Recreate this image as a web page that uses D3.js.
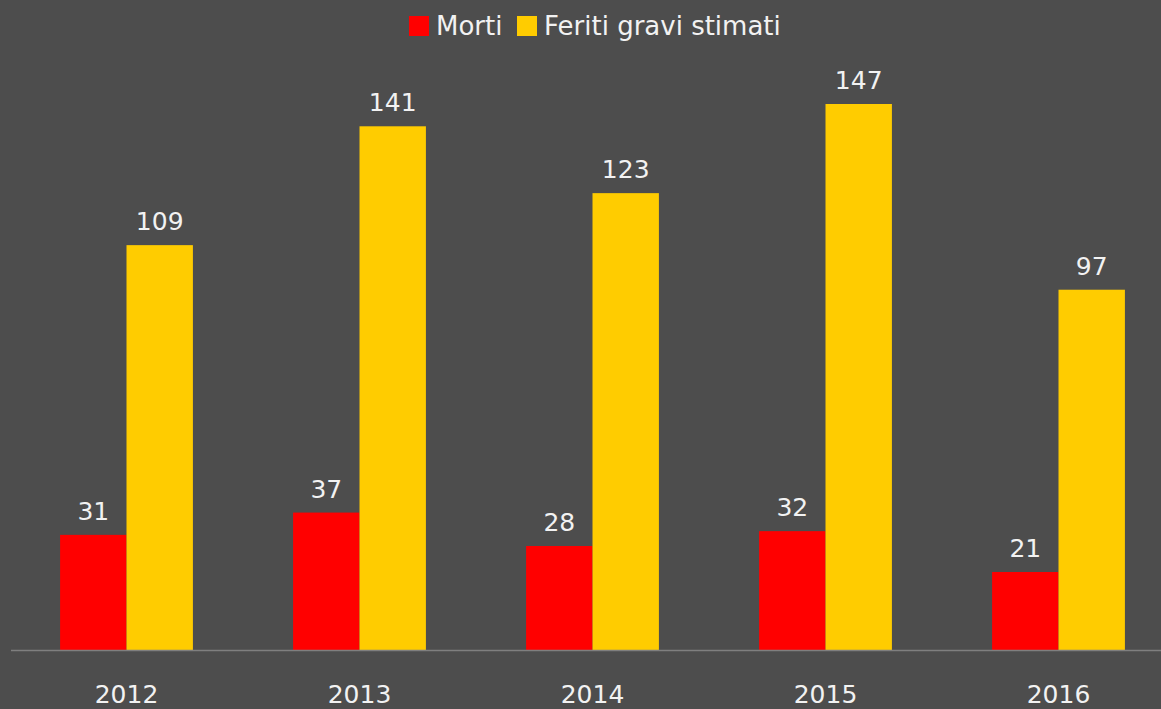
<!DOCTYPE html>
<meta charset="utf-8">
<style>
body { margin: 0; background: #4d4d4d; }
text { font-family: "DejaVu Sans", sans-serif; fill: #f2f2f2; }
</style>
<body>
<script src="https://cdnjs.cloudflare.com/ajax/libs/d3/7.8.5/d3.min.js"></script>
<script>

var w = 1161;
var h = 709;

var years = ["2012", "2013", "2014", "2015", "2016"];
var morti = [31, 37, 28, 32, 21];
var feriti = [109, 141, 123, 147, 97];
var seriesNames = ["Morti", "Feriti gravi stimati"];
var colors = ["#ff0000", "#ffcc00"];

var svg = d3.select("body")
	.append("svg")
	.attr("width", w)
	.attr("height", h);

svg.append("rect")
	.attr("width", w)
	.attr("height", h)
	.attr("fill", "#4d4d4d");

var x = d3.scaleBand()
	.domain(years)
	.range([10, 1175])
	.paddingInner(0.43)
	.paddingOuter(0.215);

var x1 = d3.scaleBand()
	.domain([0, 1])
	.range([0, x.bandwidth()]);

var y = d3.scaleLinear()
	.domain([0, 175])
	.range([650, 0]);

var series = [morti, feriti];

series.forEach(function(vals, s) {
	var g = svg.append("g");
	g.selectAll("rect")
		.data(vals)
		.enter()
		.append("rect")
		.attr("x", function(d, i) { return x(years[i]) + x1(s); })
		.attr("y", function(d) { return y(d); })
		.attr("width", x1.bandwidth())
		.attr("height", function(d) { return y(0) - y(d); })
		.attr("fill", colors[s]);
	g.selectAll("text")
		.data(vals)
		.enter()
		.append("text")
		.attr("x", function(d, i) { return x(years[i]) + x1(s) + x1.bandwidth() / 2; })
		.attr("y", function(d) { return y(d) - 15; })
		.attr("text-anchor", "middle")
		.style("font-size", "25px")
		.text(function(d) { return d; });
});

// baseline
svg.append("line")
	.attr("x1", 11)
	.attr("x2", w)
	.attr("y1", 650.5)
	.attr("y2", 650.5)
	.attr("stroke", "#7f7f7f")
	.attr("stroke-width", 1.5);

// year labels
svg.selectAll("text.year")
	.data(years)
	.enter()
	.append("text")
	.attr("class", "year")
	.attr("x", function(d) { return x(d) + x.bandwidth() / 2; })
	.attr("y", 703)
	.attr("text-anchor", "middle")
	.style("font-size", "25px")
	.text(function(d) { return d; });

// legend
var legendX = [409, 517];
var lg = svg.append("g");
seriesNames.forEach(function(name, i) {
	lg.append("rect")
		.attr("x", legendX[i])
		.attr("y", 16)
		.attr("width", 20)
		.attr("height", 20)
		.attr("fill", colors[i]);
	lg.append("text")
		.attr("x", legendX[i] + 27)
		.attr("y", 35)
		.style("font-size", "26px")
		.text(name);
});

</script>
</body>
